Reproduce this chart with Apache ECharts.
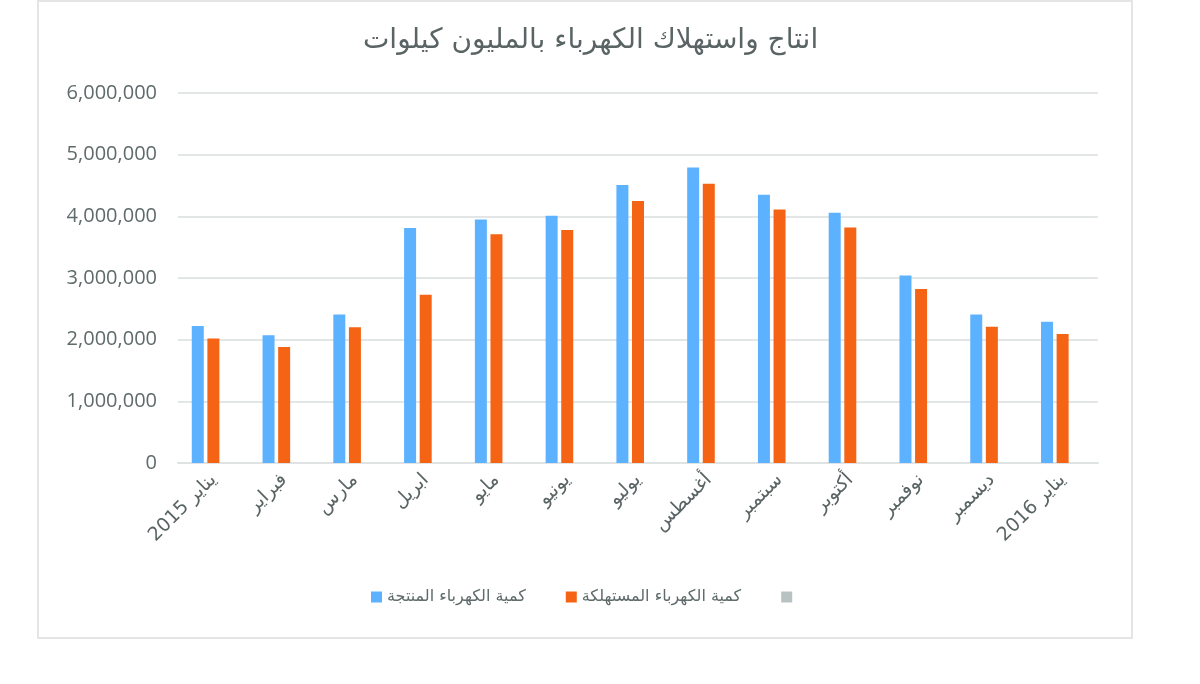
<!DOCTYPE html>
<html>
<head>
<meta charset="utf-8">
<script src="https://cdn.jsdelivr.net/npm/echarts@6/dist/echarts.min.js"></script>
<style>
  html, body { margin: 0; padding: 0; background: #fff; }
</style>
</head>
<body>
<div id="main" style="width: 1200px; height: 684px"></div>
<script>
// months, Jan 2015 .. Jan 2016
const categories = ['يناير 2015', 'فبراير', 'مارس', 'ابريل', 'مايو', 'يونيو', 'يوليو',
  'أغسطس', 'سبتمبر', 'أكتوبر', 'نوفمبر', 'ديسمبر', 'يناير 2016'];
const produced = [2220000, 2070000, 2410000, 3810000, 3950000, 4010000, 4510000,
  4790000, 4350000, 4060000, 3040000, 2410000, 2290000];
const consumed = [2020000, 1880000, 2200000, 2730000, 3710000, 3780000, 4250000,
  4530000, 4110000, 3820000, 2820000, 2210000, 2090000];
const empty = [0, 0, 0, 0, 0, 0, 0, 0, 0, 0, 0, 0, 0];
const yTicks = [0, 1000000, 2000000, 3000000, 4000000, 5000000, 6000000];

const arabicFont = '"DejaVu Sans", "Noto Sans", sans-serif';
const numFont = '"Open Sans", "Noto Sans", sans-serif';

const chart = echarts.init(document.getElementById('main'));
chart.setOption({
  animation: false,
  title: {
    text: 'انتاج واستهلاك الكهرباء بالمليون كيلوات',
    left: 358,
    top: 22,
    textStyle: { fontFamily: arabicFont, fontSize: 28, fontWeight: 'normal', color: '#5a6464' }
  },
  graphic: [{
    type: 'rect',
    shape: { x: 38, y: 1, width: 1094, height: 637 },
    style: { fill: 'none', stroke: '#e4e6e6', lineWidth: 2 },
    silent: true
  }],
  grid: { left: 178, right: 102, top: 93, bottom: 221 },
  legend: {
    bottom: 74,
    left: 366,
    itemWidth: 11,
    itemHeight: 11,
    itemGap: 40,
    icon: 'rect',
    textStyle: { fontFamily: arabicFont, fontSize: 16, color: '#5f6a6a' },
    data: ['كمية الكهرباء المنتجة', 'كمية الكهرباء المستهلكة', ' ']
  },
  xAxis: {
    type: 'category',
    data: categories,
    axisLine: { lineStyle: { color: '#dfe3e3', width: 2 } },
    axisTick: { show: false },
    axisLabel: {
      rotate: 45,
      interval: 0,
      margin: 14,
      fontFamily: arabicFont,
      fontSize: 19,
      color: '#5a6464'
    }
  },
  yAxis: {
    type: 'value',
    min: yTicks[0],
    max: yTicks[yTicks.length - 1],
    interval: 1000000,
    axisLine: { show: false },
    axisTick: { show: false },
    splitLine: { lineStyle: { color: '#e2e6e6', width: 2 } },
    axisLabel: {
      margin: 21,
      fontFamily: numFont,
      fontSize: 20,
      color: '#5f6a6a',
      formatter: (v) => v.toLocaleString('en-US')
    }
  },
  series: [
    {
      name: 'كمية الكهرباء المنتجة',
      type: 'bar',
      barWidth: 12,
      barGap: '30%',
      itemStyle: { color: '#5db2ff' },
      data: produced
    },
    {
      name: 'كمية الكهرباء المستهلكة',
      type: 'bar',
      barWidth: 12,
      barGap: '30%',
      itemStyle: { color: '#f56314' },
      data: consumed
    },
    {
      name: ' ',
      type: 'bar',
      barWidth: 12,
      barGap: '30%',
      itemStyle: { color: '#b9c2c2' },
      data: empty
    }
  ]
});
</script>
</body>
</html>
